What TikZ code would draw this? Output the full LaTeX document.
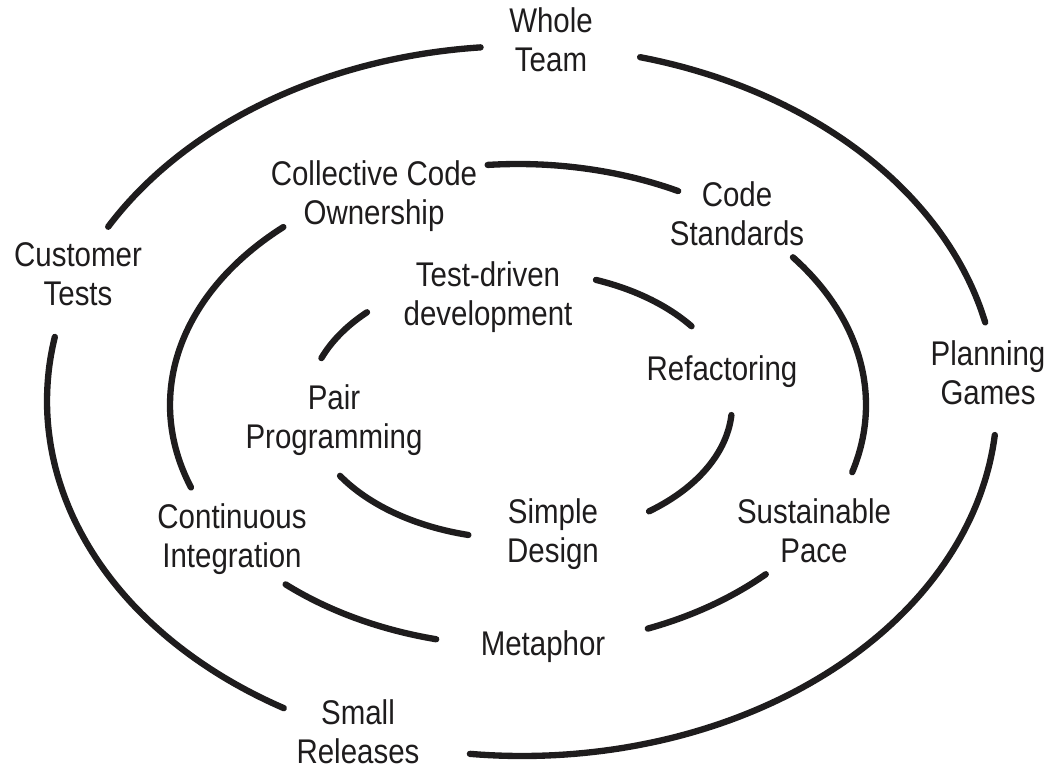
\documentclass[tikz,border=0pt]{standalone}
\usepackage{fontspec}
\newfontfamily\lblfont{Liberation Sans}[FakeStretch=0.86]
\definecolor{ink}{HTML}{1E1C1D}
\newcommand\ringarc[6]{%
  \draw[ring] plot[domain=#5:#6, samples=80, variable=\t]
    ({#1+#3*cos(\t)}, {#2+#4*sin(\t)});}
\begin{document}
\begin{tikzpicture}[x=0.02cm, y=-0.02cm,
  ring/.style={line width=3.6pt, line cap=round, draw=ink},
  lbl/.style={anchor=base, align=center, inner sep=0pt, text=ink,
    font=\lblfont\fontsize{19.5}{22}\selectfont}]
\useasboundingbox (0,0) rectangle (1057,775);
% outer ring
\ringarc{522}{401}{475}{355}{-150.6}{-95.0}
\ringarc{522}{401}{475}{355}{-75.6}{-12.8}
\ringarc{522}{401}{475}{355}{5.5}{96.3}
\ringarc{522}{401}{475}{355}{120.1}{190.4}
% middle ring
\ringarc{518}{405}{348}{241}{-95.0}{-62.6}
\ringarc{518}{405}{348}{241}{-37.8}{16.2}
\ringarc{518}{405}{348}{241}{44.6}{68.1}
\ringarc{518}{405}{348}{241}{103.6}{131.9}
\ringarc{518}{405}{348}{241}{160.0}{227.6}
% inner ring
\ringarc{520}{405}{212}{134}{200.5}{223.8}
\ringarc{520}{405}{212}{134}{-69.0}{-36.0}
\ringarc{520}{405}{212}{134}{4.3}{52.5}
\ringarc{520}{405}{212}{134}{104.1}{148.1}
% labels (anchor base = baseline of last line)
\node[lbl] (whole) at (551,71) {Whole\\Team};
\node[lbl] (cust) at (78,305) {Customer\\Tests};
\node[lbl] (cco) at (374,224) {Collective Code\\Ownership};
\node[lbl] (cstd) at (737,245) {Code\\Standards};
\node[lbl] (tdd) at (488,325) {Test-driven\\development};
\node[lbl] (refac) at (722,380) {Refactoring};
\node[lbl] (plan) at (988,404) {Planning\\Games};
\node[lbl] (pair) at (334,448) {Pair\\Programming};
\node[lbl] (ci) at (232,567) {Continuous\\Integration};
\node[lbl] (simple) at (553,562) {Simple\\Design};
\node[lbl] (sust) at (814,562) {Sustainable\\Pace};
\node[lbl] (meta) at (543,655) {Metaphor};
\node[lbl] (small) at (358,763) {Small\\Releases};
\end{tikzpicture}
\end{document}
